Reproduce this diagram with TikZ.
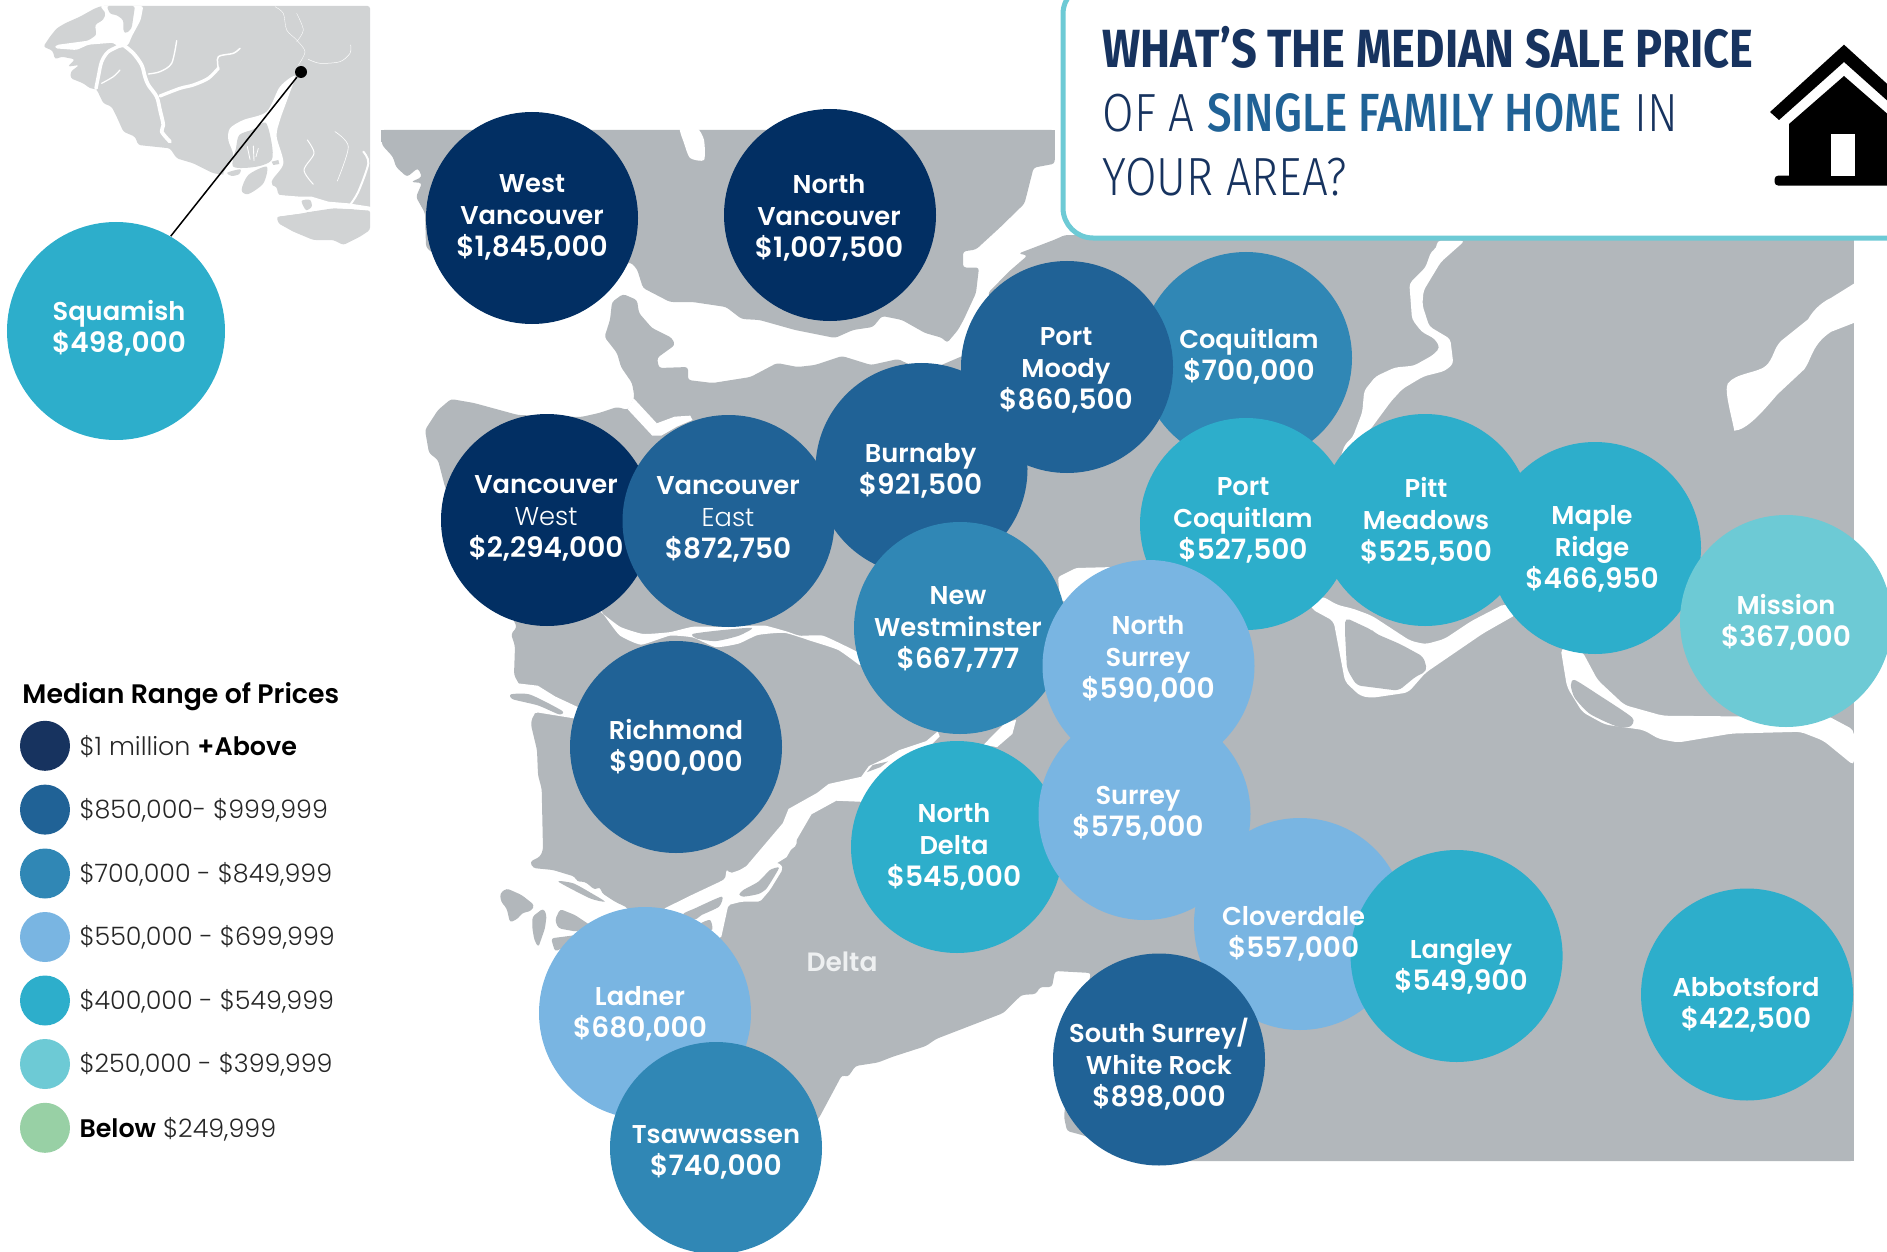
\documentclass[tikz,border=0pt]{standalone}
\usepackage{fontspec}
\setmainfont{Poppins}
\newfontfamily\semif{Poppins SemiBold}
\newfontfamily\lightf{Poppins Light}
\newfontfamily\ttlb[FakeStretch=0.84]{Fira Sans Bold}
\newfontfamily\ttlm[FakeStretch=0.815]{Fira Sans Medium}
\newfontfamily\ttll[FakeStretch=0.85]{Fira Sans Light}
\newcommand\prc{\fontsize{11.2}{12.8}\selectfont}
\definecolor{land}{HTML}{B2B7BB}
\definecolor{inset}{HTML}{D1D3D4}
\definecolor{cA}{HTML}{022F63}
\definecolor{cAl}{HTML}{17335F}
\definecolor{cB}{HTML}{206296}
\definecolor{cC}{HTML}{3087B5}
\definecolor{cD}{HTML}{79B5E2}
\definecolor{cE}{HTML}{2DAECB}
\definecolor{cF}{HTML}{6DCAD5}
\definecolor{cG}{HTML}{98D0A5}
\definecolor{dlt}{HTML}{EEF0F1}
\tikzset{
  x=.4pt,y=-.4pt,
  zfive/.style={x=.13333pt,y=-.13333pt},
  zsix/.style={shift={(380,120)},x=.17857pt,y=-.13333pt},
  zseven/.style={shift={(490,600)},x=.15308pt,y=-.14286pt},
  zeight/.style={shift={(1280,230)},x=.15308pt,y=-.14286pt},
  znine/.style={shift={(495,840)},x=.13333pt,y=-.13333pt},
  bub/.style={circle,inner sep=0pt,minimum size=84.8pt,fill=#1},
  key/.style={circle,inner sep=0pt,minimum size=20pt,fill=#1},
  lab/.style={text=white,align=center,inner sep=0pt,yshift=-1pt,font=\semif\fontsize{10.3}{12.8}\selectfont},
  keytxt/.style={anchor=west,inner sep=0pt,text=black!85,font=\lightf\fontsize{10.15}{11}\selectfont},
  ttl/.style={anchor=base west,inner sep=0pt},
  lnd/.style={fill=land,rounded corners=1.2pt},
  wat/.style={fill=white},
  riv/.style={draw=white,line cap=round,line join=round},
}
\begin{document}
\begin{tikzpicture}
\useasboundingbox (0,0) rectangle (1887,1252);
\begin{scope}
\clip (0,0) rectangle (1887,1252);
% ---- inset map
\begin{scope}[zfive]
\fill[inset,rounded corners=1pt] (305,18) -- (285,25) -- (240,50) -- (195,70) -- (170,85) -- (150,110) -- (130,140) -- (158,152) -- (165,178) -- (185,170) -- (225,178) -- (203,200) -- (238,195) -- (212,215) -- (212,235) -- (250,250) -- (270,265) -- (290,268) -- (310,310) -- (335,320) -- (350,350) -- (370,395) -- (405,410) -- (415,435) -- (510,445) -- (530,475) -- (580,490) -- (640,520) -- (720,530) -- (830,560) -- (835,585) -- (920,595) -- (1000,610) -- (1060,625) -- (1110,628) -- (1110,18) -- cycle;
\fill[inset,rounded corners=1pt] (830,650) -- (900,640) -- (1000,625) -- (1110,630) -- (1110,690) -- (1080,710) -- (1030,735) -- (1000,720) -- (940,720) -- (880,695) -- (835,670) -- cycle;
\fill[wat] plot[smooth cycle,tension=.5] coordinates {(690,385) (730,360) (800,335) (840,260) (885,228) (865,290) (840,360) (830,410) (850,490) (815,545) (835,590) (780,580) (720,560) (670,525) (700,470) (685,420)};
\fill[inset] plot[smooth cycle,tension=.5] coordinates {(708,445) (718,405) (760,388) (797,368) (815,430) (815,480) (770,500) (700,500)};
\draw[riv,line width=.35pt] (742,440) -- (750,478);
\draw[riv,line width=.35pt] (760,438) -- (762,482);
\draw[riv,line width=.3pt] (775,445) -- (768,470);
\fill[inset] plot[smooth cycle,tension=.5] coordinates {(725,570) (745,525) (800,500) (790,550) (745,582)};
\fill[inset] plot[smooth cycle,tension=.5] coordinates {(682,518) (720,508) (718,522) (695,528)};
\fill[inset] (815,485) -- (835,480) -- (838,492) -- (820,495) -- cycle;
\fill[wat] (835,585) -- (900,590) -- (935,590) -- (985,605) -- (1045,610) -- (1110,620) -- (1110,632) -- (1000,622) -- (925,635) -- (905,640) -- (830,650) -- cycle;
\fill[inset] plot[smooth cycle,tension=.5] coordinates {(905,603) (930,600) (935,620) (918,630)};
% channels, north-west
\fill[wat,rounded corners=1pt] (300,18) -- (430,18) -- (422,60) -- (395,110) -- (385,135) -- (360,145) -- (340,128) -- (265,134) -- (230,150) -- (165,145) -- (168,135) -- (265,122) -- (290,105) -- (285,75) -- (310,60) -- (318,40) -- cycle;
\fill[inset,rounded corners=1pt] (320,18) -- (405,18) -- (395,85) -- (380,100) -- (370,95) -- (370,60) -- (350,45) -- (330,42) -- cycle;
\draw[riv,line width=1.5pt] plot[smooth,tension=.5] coordinates {(370,135) (400,160) (425,195) (435,230) (445,255) (470,290) (480,330) (490,375) (485,395) (510,425)};
\draw[riv,line width=1.3pt] plot[smooth,tension=.5] coordinates {(480,288) (540,265) (580,255) (625,235) (655,205)};
\draw[riv,line width=.6pt] plot[smooth,tension=.5] coordinates {(655,205) (655,170) (700,160) (720,145)};
\draw[riv,line width=.55pt] plot[smooth,tension=.5] coordinates {(445,222) (480,215) (515,190) (530,122)};
\draw[riv,line width=1.4pt] plot[smooth,tension=.5] coordinates {(365,135) (325,155) (305,185) (295,230) (288,265)};
\draw[riv,line width=.5pt] plot[smooth,tension=.5] coordinates {(305,250) (340,230) (360,210)};
\draw[riv,line width=.15pt] plot[smooth,tension=.5] coordinates {(825,20) (850,40) (860,90) (890,120) (915,155) (895,195)};
\draw[riv,line width=.15pt] plot[smooth,tension=.5] coordinates {(890,40) (910,90) (890,125)};
\draw[riv,line width=.2pt] plot[smooth,tension=.5] coordinates {(925,178) (960,190) (1020,185) (1050,160) (1052,135)};
\draw[riv,line width=.4pt] plot[smooth,tension=.5] coordinates {(922,420) (942,460) (912,510) (940,553)};
\draw[riv,line width=.25pt] plot[smooth,tension=.5] coordinates {(1005,395) (1045,440) (1012,543)};
\draw[riv,line width=.8pt] plot[smooth,tension=.5] coordinates {(1090,455) (1105,490) (1075,575) (1050,615)};
\end{scope}
% ---- main land
\fill[land] (381,130) rectangle (392,142);
\fill[land] (1030,130) rectangle (1054.7,160);
\fill[land] (1300,1100) rectangle (1853.6,1161);
\fill[land] (1800,238) rectangle (1853.6,1161);
\fill[lnd] (381,130) -- (382,145) -- (393,157) -- (396,167) -- (407,177) -- (418,168) -- (422,177) -- (411,182) -- (422,183) -- (416,197) -- (425,213) -- (426,247) -- (431,252) -- (560,300) -- (630,262) -- (637,269) -- (643,288) -- (670,302) -- (692.5,302) -- (726,307) -- (741.6,319) -- (759.5,320) -- (795,330) -- (835,338) -- (853,330) -- (873,327) -- (882,316) -- (902,320) -- (925,333) -- (942.5,338) -- (947,343) -- (958,330) -- (964,319) -- (976,293) -- (979,267.5) -- (963,267.5) -- (963,251.5) -- (976,249.5) -- (1000,227.5) -- (1024.5,203.6) -- (1033.6,167.7) -- (1054.7,163.7) -- (1054.7,130) -- cycle;
\fill[lnd] (1853.6,238) -- (1853.6,1161) -- (1150,1161) -- (1082,1135) -- (1067,1131) -- (1064,1117) -- (1070,1060) -- (1091,973) -- (1055,971) -- (1052,987) -- (1040,987) -- (1036,994) -- (1021.5,995) -- (1003.4,1013) -- (936,1039) -- (926,1046) -- (892,1057) -- (878,1062.5) -- (855.5,1066) -- (848,1077) -- (842,1075) -- (819,1118) -- (780,1160) -- (640,1000) -- (628,908) -- (615,901.7) -- (601.7,893) -- (600,886.7) -- (595,890) -- (585,881.7) -- (577,881.7) -- (575,876.7) -- (553,870) -- (533,868) -- (530,861.7) -- (540,856.7) -- (543,850) -- (541.7,789) -- (538,775) -- (537,750) -- (531,725) -- (532,718) -- (536,712.5) -- (519,684) -- (514,675) -- (515,646) -- (511,634) -- (517,627) -- (445,487) -- (438,460) -- (429,453) -- (425,430) -- (438,410) -- (451,399) -- (474,403) -- (518,415) -- (581,417) -- (599,413) -- (617,407) -- (628,410) -- (634.5,397) -- (632,383) -- (621,367) -- (617,353) -- (604.5,337) -- (610,320) -- (612,302) -- (623,294) -- (637,300) -- (639,313) -- (652,328) -- (672,338) -- (675,345) -- (657,358) -- (659,368) -- (688,367) -- (688,380) -- (712.6,383) -- (750.5,377) -- (777,363) -- (797.4,367) -- (815,365) -- (842,356) -- (871,365) -- (898,359) -- (925,372) -- (1000,340) -- (988,293) -- (1009,271.5) -- (1027.5,255.5) -- (1018.5,253.5) -- (1055,239.5) -- (1065,235) -- cycle;
% ---- lake on the north shore
\fill[wat] plot[smooth cycle,tension=.4] coordinates {(680,128) (684,143) (690,158) (704,160) (704,140) (697,128)};
% ---- False Creek
\begin{scope}[zsix]
\fill[wat] (568,835) -- (620,910) -- (660,890) -- (695,887) -- (700,900) -- (665,920) -- (630,947) -- (610,947) -- (555,868) -- cycle;
\end{scope}
% ---- Fraser and channels
\begin{scope}[zseven]
\fill[wat] plot[smooth,tension=.3] coordinates {(285,30) (340,75) (400,95) (470,90) (530,75) (600,75) (685,72) (720,72) (775,88) (810,100) (870,100) (950,140) (1000,170)} -- plot[smooth,tension=.3] coordinates {(965,182) (910,140) (840,115) (770,92) (700,98) (650,122) (590,132) (530,105) (470,100) (395,125) (340,100) (310,60) (290,30)} -- cycle;
\fill[land] plot[smooth cycle,tension=.4] coordinates {(530,95) (600,85) (685,78) (650,100) (590,115) (540,108)};
\fill[wat] (1170,368) -- (1140,395) -- (1070,420) -- (1030,445) -- (990,465) -- (970,495) -- (885,515) -- (855,540) -- (780,585) -- (765,625) -- (670,745) -- (600,790) -- (640,810) -- (775,720) -- (840,600) -- (905,562) -- (970,565) -- (1010,520) -- (1130,430) -- (1175,382) -- cycle;
\fill[land] (985,482) -- (1000,462) -- (1040,452) -- (1020,468) -- cycle;
\fill[wat] (1290,405) -- (1345,345) -- (1375,335) -- (1365,375) -- (1325,412) -- cycle;
\end{scope}
\begin{scope}[znine]
\fill[wat,rounded corners=.8pt] (505,207) -- (590,165) -- (690,118) -- (695,88) -- (705,100) -- (750,85) -- (835,-5) -- (905,-5) -- (905,15) -- (840,68) -- (858,72) -- (863,88) -- (825,150) -- (795,185) -- (740,185) -- (700,195) -- (678,295) -- (600,300) -- cycle;
\fill[land] plot[smooth cycle,tension=.4] coordinates {(733,163) (745,150) (790,125) (825,90) (850,82) (848,92) (815,145) (790,162) (745,170)};
\fill[land] plot[smooth cycle,tension=.4] coordinates {(565,222) (600,205) (680,170) (672,200) (620,225) (600,238)};
\fill[land] plot[smooth cycle,tension=.4] coordinates {(615,252) (645,240) (652,268) (625,275)};
\fill[land] plot[smooth cycle,tension=.4] coordinates {(190,125) (235,130) (290,160) (330,185) (285,175)};
\fill[lnd] (15,160) -- (35,145) -- (80,165) -- (118,195) -- (110,212) -- (80,220) -- (70,235) -- (45,248) -- (35,205) -- (18,185) -- cycle;
\fill[lnd] (112,230) -- (145,205) -- (155,225) -- (150,265) -- (130,322) -- (118,300) -- (112,265) -- cycle;
\fill[lnd] (180,240) -- (195,207) -- (240,225) -- (285,255) -- (245,275) -- (190,265) -- cycle;
\fill[lnd] (168,295) -- (245,285) -- (210,320) -- (180,335) -- cycle;
\end{scope}
% ---- Sturgeon bank channel
\begin{scope}[zseven]
\fill[wat] (62,232) -- (125,240) -- (170,270) -- (240,305) -- (240,335) -- (125,315) -- (105,320) -- (50,262) -- cycle;
\fill[land] plot[smooth cycle,tension=.4] coordinates {(55,264) (105,265) (188,310) (180,320) (125,295) (60,278)};
\end{scope}
% ---- channel north-east of Delta
\fill[wat,rounded corners=1pt] (1060,600) -- (1058,577) -- (1076,568) -- (1115,567) -- (1120,620) -- cycle;
\begin{scope}[zeight]
\fill[wat,rounded corners=1.5pt] (410,30) -- (483,30) -- (420,90) -- (375,170) -- (372,210) -- (390,270) -- (445,305) -- (453,375) -- (430,395) -- (375,410) -- (320,445) -- (290,480) -- (235,560) -- (190,600) -- (155,660) -- (160,630) -- (170,600) -- (190,580) -- (215,510) -- (220,450) -- (250,410) -- (300,385) -- (350,380) -- (400,350) -- (418,330) -- (405,305) -- (370,285) -- (345,250) -- (338,150) -- (380,105) -- (395,60) -- (410,50) -- cycle;
\fill[wat,rounded corners=2pt] (80,1040) -- (110,1025) -- (150,1050) -- (190,1060) -- (240,1080) -- (340,1150) -- (380,1160) -- (430,1145) -- (500,1095) -- (590,1045) -- (620,1075) -- (530,1130) -- (380,1240) -- (335,1295) -- (240,1310) -- (210,1305) -- (170,1265) -- (155,1180) -- (140,1095) -- (80,1060) -- cycle;
\fill[land,rounded corners=2pt] (170,1085) -- (240,1120) -- (250,1130) -- (315,1160) -- (375,1195) -- (385,1235) -- (355,1250) -- (310,1290) -- (200,1275) -- (175,1230) -- (170,1130) -- cycle;
\fill[wat,rounded corners=2pt] (733,1170) -- (790,1180) -- (830,1260) -- (900,1330) -- (1000,1360) -- (1200,1362) -- (1430,1360) -- (1500,1400) -- (1500,1500) -- (1420,1430) -- (1360,1405) -- (1180,1410) -- (1040,1435) -- (990,1425) -- (950,1400) -- (850,1385) -- (790,1350) -- (750,1280) -- cycle;
\fill[land] plot[smooth cycle,tension=.4] coordinates {(770,1260) (830,1300) (920,1365) (915,1390) (880,1390) (810,1355) (770,1310) (760,1275)};
\fill[wat] (1500,150) -- (1440,190) .. controls (1410,205) and (1390,230) .. (1380,250) -- (1310,310) .. controls (1290,330) and (1290,360) .. (1270,380) .. controls (1250,400) and (1190,400) .. (1170,430) .. controls (1160,450) and (1180,520) .. (1187,562) .. controls (1220,560) and (1260,510) .. (1300,460) -- (1370,390) .. controls (1390,360) and (1390,320) .. (1440,285) -- (1500,260) -- cycle;
\end{scope}
% ---- title box
\draw[cF,line width=2pt,fill=white,rounded corners=12pt] (1063,-16) -- (1063,238) -- (1960,238) -- (1960,-16) -- cycle;
\node[ttl,text=cAl,font=\ttlb\fontsize{21.5}{24}\selectfont] (t1) at (1102,68) {WHAT’S THE MEDIAN SALE PRICE};
\node[ttl,text=cAl,font=\ttll\fontsize{21.5}{24}\selectfont] (t2) at (1102,132) {OF A {\ttlm\color{cB}SINGLE FAMILY HOME} IN};
\node[ttl,text=cAl,font=\ttll\fontsize{21.5}{24}\selectfont] (t3) at (1102,196) {YOUR AREA?};
% ---- house
\fill[black] (1844,44.7) -- (1770,112) -- (1779,120) -- (1844,62) -- (1909,120) -- (1918,112) -- cycle;
\fill[black] (1844,76) -- (1789,124) -- (1789,176) -- (1899,176) -- (1899,124) -- cycle;
\fill[black,rounded corners=1.5pt] (1774.5,175.6) rectangle (1900,185.6);
\fill[white] (1831,134) rectangle (1855,176);
% ---- inset marker and connector
\node[circle,inner sep=0pt,minimum size=4.8pt,fill=black] (dot) at (301,72) {};
% ---- bubbles
\node[bub=cE,minimum size=87.2pt] (sq) at (116,331) {};
\draw[black,line width=.6pt] (dot) -- (sq.60);
\node[bub=cA] (wv) at (532,218) {};
\node[bub=cA] (nv) at (830,215) {};
\node[bub=cA] (vw) at (547,520) {};
\node[bub=cB] (ve) at (728.5,521) {};
\node[bub=cB] (bu) at (921.5,469) {};
\node[bub=cC] (co) at (1246,358) {};
\node[bub=cB] (pm) at (1067,367) {};
\node[bub=cE] (pc) at (1246,524) {};
\node[bub=cE] (pi) at (1425,520) {};
\node[bub=cE] (mr) at (1595,548) {};
\node[bub=cF] (mi) at (1786,621) {};
\node[bub=cC] (nw) at (960,628) {};
\node[bub=cE] (nd) at (957,847) {};
\node[bub=cD] (ns) at (1148.5,666) {};
\node[bub=cD] (cl) at (1300,924) {};
\node[bub=cD] (su) at (1144.5,814) {};
\node[bub=cE] (la) at (1456.6,956) {};
\node[bub=cE] (ab) at (1747,994.5) {};
\node[bub=cB] (ss) at (1159,1059.5) {};
\node[bub=cB] (ri) at (676,747) {};
\node[bub=cD] (ld) at (645,1013) {};
\node[bub=cC] (ts) at (716,1148) {};
% ---- bubble labels
\node[lab] (lsq) at (119,326) {Squamish\\\prc\$498,000};
\node[lab] (lwv) at (532,215) {West\\Vancouver\\\prc\$1,845,000};
\node[lab] (lnv) at (829,215.4) {North\\Vancouver\\\prc\$1,007,500};
\node[lab] (lvw) at (546,516) {Vancouver\\{\lightf West}\\\prc\$2,294,000};
\node[lab] (lve) at (728,517) {Vancouver\\{\lightf East}\\\prc\$872,750};
\node[lab] (lpm) at (1066,367.5) {Port\\Moody\\\prc\$860,500};
\node[lab] (lco) at (1249,354) {Coquitlam\\\prc\$700,000};
\node[lab] (lbu) at (920.6,468.5) {Burnaby\\\prc\$921,500};
\node[lab] (lpc) at (1243,518) {Port\\Coquitlam\\\prc\$527,500};
\node[lab] (lpi) at (1426,519) {Pitt\\Meadows\\\prc\$525,500};
\node[lab] (lmr) at (1592,546.5) {Maple\\Ridge\\\prc\$466,950};
\node[lab] (lmi) at (1786,620) {Mission\\\prc\$367,000};
\node[lab] (lnw) at (958,627) {New\\Westminster\\\prc\$667,777};
\node[lab] (lns) at (1148,656.5) {North\\Surrey\\\prc\$590,000};
\node[lab] (lri) at (676,745) {Richmond\\\prc\$900,000};
\node[lab] (lsu) at (1138,811) {Surrey\\\prc\$575,000};
\node[lab] (lnd) at (954,844.5) {North\\Delta\\\prc\$545,000};
\node[lab] (lcl) at (1293.6,931) {Cloverdale\\\prc\$557,000};
\node[lab] (lla) at (1461,964) {Langley\\\prc\$549,900};
\node[lab] (lab) at (1746,1001.5) {Abbotsford\\\prc\$422,500};
\node[lab] (lld) at (640,1011) {Ladner\\\prc\$680,000};
\node[lab] (lss) at (1159,1062) {South Surrey/\\White Rock\\\prc\$898,000};
\node[lab] (lts) at (716,1150) {Tsawwassen\\\prc\$740,000};
\node[lab,text=dlt,font=\semif\fontsize{10.6}{12.8}\selectfont] (ldl) at (842,959.5) {Delta};
% ---- legend
\node[anchor=west,inner sep=0pt,text=black,font=\semif\fontsize{10.7}{12.8}\selectfont] (lt) at (22,696.5) {Median Range of Prices};
\node[key=cAl] (k1) at (45,745.8) {};
\node[key=cB] (k2) at (45,809.6) {};
\node[key=cC] (k3) at (45,873.5) {};
\node[key=cD] (k4) at (45,937) {};
\node[key=cE] (k5) at (45,1000.5) {};
\node[key=cF] (k6) at (45,1064) {};
\node[key=cG] (k7) at (45,1127.8) {};
\node[keytxt] (x1) at (79,747) {\$1 million {\semif\color{black} +Above}};
\node[keytxt] (x2) at (79,810.4) {\$850,000- \$999,999};
\node[keytxt] (x3) at (79,874.3) {\$700,000 - \$849,999};
\node[keytxt] (x4) at (79,937.8) {\$550,000 - \$699,999};
\node[keytxt] (x5) at (79,1001.3) {\$400,000 - \$549,999};
\node[keytxt] (x6) at (79,1064.8) {\$250,000 - \$399,999};
\node[keytxt] (x7) at (79,1129) {{\semif\color{black} Below} \$249,999};
\end{scope}
\end{tikzpicture}
\end{document}
